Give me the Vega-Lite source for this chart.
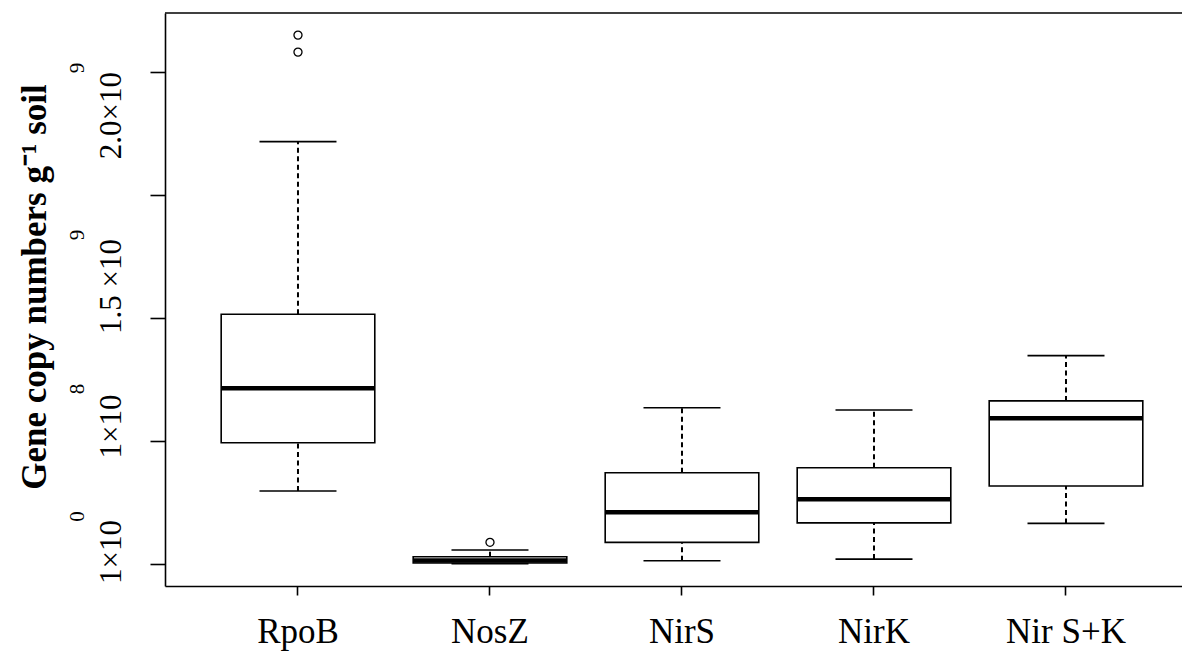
{
  "$schema": "https://vega.github.io/schema/vega-lite/v6.json",
  "width": 1017,
  "height": 573,
  "autosize": {"type": "none"},
  "padding": {"left": 165, "top": 13, "right": 0, "bottom": 66},
  "background": "white",
  "config": {
    "view": {"stroke": null},
    "font": "Liberation Serif",
    "axis": {"grid": false, "labelColor": "black", "titleColor": "black", "domainColor": "black", "tickColor": "black", "labelFont": "Liberation Serif", "titleFont": "Liberation Serif"}
  },
  "datasets": {
    "stats": [
      {"gene": "RpoB", "lw": 297000000, "q1": 493000000, "med": 714000000, "q3": 1015000000, "uw": 1717000000},
      {"gene": "NosZ", "lw": 1000000, "q1": 4000000, "med": 14200000, "q3": 29700000, "uw": 56900000},
      {"gene": "NirS", "lw": 13000000, "q1": 88000000, "med": 210000000, "q3": 371000000, "uw": 635000000},
      {"gene": "NirK", "lw": 20000000, "q1": 167000000, "med": 263000000, "q3": 391000000, "uw": 626000000},
      {"gene": "Nir S+K", "lw": 165000000, "q1": 317000000, "med": 592000000, "q3": 663000000, "uw": 847000000}
    ],
    "outliers": [
      {"gene": "RpoB", "value": 2150000000},
      {"gene": "RpoB", "value": 2081000000},
      {"gene": "NosZ", "value": 88200000}
    ],
    "frame": [{"top": 2239800000}]
  },
  "resolve": {"axis": {"y": "independent", "x": "shared"}},
  "layer": [
    {
      "data": {"name": "stats"},
      "mark": {"type": "rule", "color": "black", "strokeWidth": 2, "strokeDash": [5, 3.5]},
      "encoding": {
        "x": {"field": "gene", "type": "nominal", "scale": {"domain": ["RpoB", "NosZ", "NirS", "NirK", "Nir S+K"], "paddingInner": 0, "paddingOuter": 0.1484, "align": 0.649},
          "axis": {"orient": "bottom", "title": null, "domain": true, "ticks": true, "labels": true, "labelAngle": 0, "labelFontSize": 35, "labelBaseline": "alphabetic", "labelPadding": 47, "tickSize": 9, "tickWidth": 1.6, "domainWidth": 1.6}},
        "y": {"field": "q3", "type": "quantitative", "scale": {"domain": [-89400000, 2239800000], "nice": false, "zero": false}, "axis": null},
        "y2": {"field": "uw"}
      }
    },
    {
      "data": {"name": "stats"},
      "mark": {"type": "rule", "color": "black", "strokeWidth": 2, "strokeDash": [5, 3.5]},
      "encoding": {
        "x": {"field": "gene", "type": "nominal"},
        "y": {"field": "lw", "type": "quantitative", "scale": {"domain": [-89400000, 2239800000], "nice": false, "zero": false}, "axis": null},
        "y2": {"field": "q1"}
      }
    },
    {
      "data": {"name": "stats"},
      "mark": {"type": "bar", "fill": "white", "stroke": "black", "strokeWidth": 1.6, "opacity": 1, "fillOpacity": 1, "width": {"band": 0.8}},
      "encoding": {
        "x": {"field": "gene", "type": "nominal"},
        "y": {"field": "q1", "type": "quantitative", "scale": {"domain": [-89400000, 2239800000], "nice": false, "zero": false},
          "axis": {"orient": "left", "values": [0, 500000000, 1000000000, 1500000000, 2000000000], "labels": false, "tickSize": 15, "tickWidth": 1.6, "domainWidth": 1.6,
            "title": "Gene copy numbers g⁻¹ soil", "titleFontSize": 35, "titleFontWeight": "bold", "titleAngle": 270, "titleX": -120, "titleY": 273.5, "titleAlign": "center", "titleBaseline": "alphabetic"}},
        "y2": {"field": "q3"}
      }
    },
    {
      "data": {"name": "stats"},
      "mark": {"type": "tick", "color": "black", "opacity": 1, "size": 153, "thickness": 4.5},
      "encoding": {
        "x": {"field": "gene", "type": "nominal"},
        "y": {"field": "med", "type": "quantitative", "scale": {"domain": [-89400000, 2239800000], "nice": false, "zero": false},
          "axis": {"orient": "left", "values": [50800000, 561000000, 1130000000, 1825000000], "labelExpr": "datum.value < 300000000 ? '1×10' : datum.value < 900000000 ? '1×10' : datum.value < 1500000000 ? '1.5 ×10' : '2.0×10'",
            "ticks": false, "tickSize": 0, "domain": false, "labelAngle": 270, "labelAlign": "center", "labelBaseline": "alphabetic", "labelPadding": 45, "labelFontSize": 31, "labelOverlap": false, "labelBound": false, "labelFlush": false, "title": null}}
      }
    },
    {
      "data": {"name": "stats"},
      "mark": {"type": "tick", "color": "black", "opacity": 1, "size": 77, "thickness": 1.6},
      "encoding": {
        "x": {"field": "gene", "type": "nominal"},
        "y": {"field": "uw", "type": "quantitative", "scale": {"domain": [-89400000, 2239800000], "nice": false, "zero": false}, "axis": null}
      }
    },
    {
      "data": {"name": "stats"},
      "mark": {"type": "tick", "color": "black", "opacity": 1, "size": 77, "thickness": 1.6},
      "encoding": {
        "x": {"field": "gene", "type": "nominal"},
        "y": {"field": "lw", "type": "quantitative", "scale": {"domain": [-89400000, 2239800000], "nice": false, "zero": false}, "axis": null}
      }
    },
    {
      "data": {"name": "outliers"},
      "mark": {"type": "point", "filled": false, "stroke": "black", "strokeWidth": 1.3, "size": 65, "opacity": 1},
      "encoding": {
        "x": {"field": "gene", "type": "nominal"},
        "y": {"field": "value", "type": "quantitative", "scale": {"domain": [-89400000, 2239800000], "nice": false, "zero": false},
          "axis": {"orient": "left", "values": [195100000, 713400000, 1339400000, 2018300000], "labelExpr": "datum.value < 400000000 ? '0' : datum.value < 1000000000 ? '8' : '9'",
            "ticks": false, "tickSize": 0, "domain": false, "labelAngle": 270, "labelAlign": "center", "labelBaseline": "alphabetic", "labelPadding": 82, "labelFontSize": 21, "labelOverlap": false, "labelBound": false, "labelFlush": false, "title": null}}
      }
    },
    {
      "data": {"name": "frame"},
      "mark": {"type": "rule", "color": "black", "strokeWidth": 1.6},
      "encoding": {
        "y": {"field": "top", "type": "quantitative", "scale": {"domain": [-89400000, 2239800000], "nice": false, "zero": false}, "axis": null}
      }
    }
  ]
}
